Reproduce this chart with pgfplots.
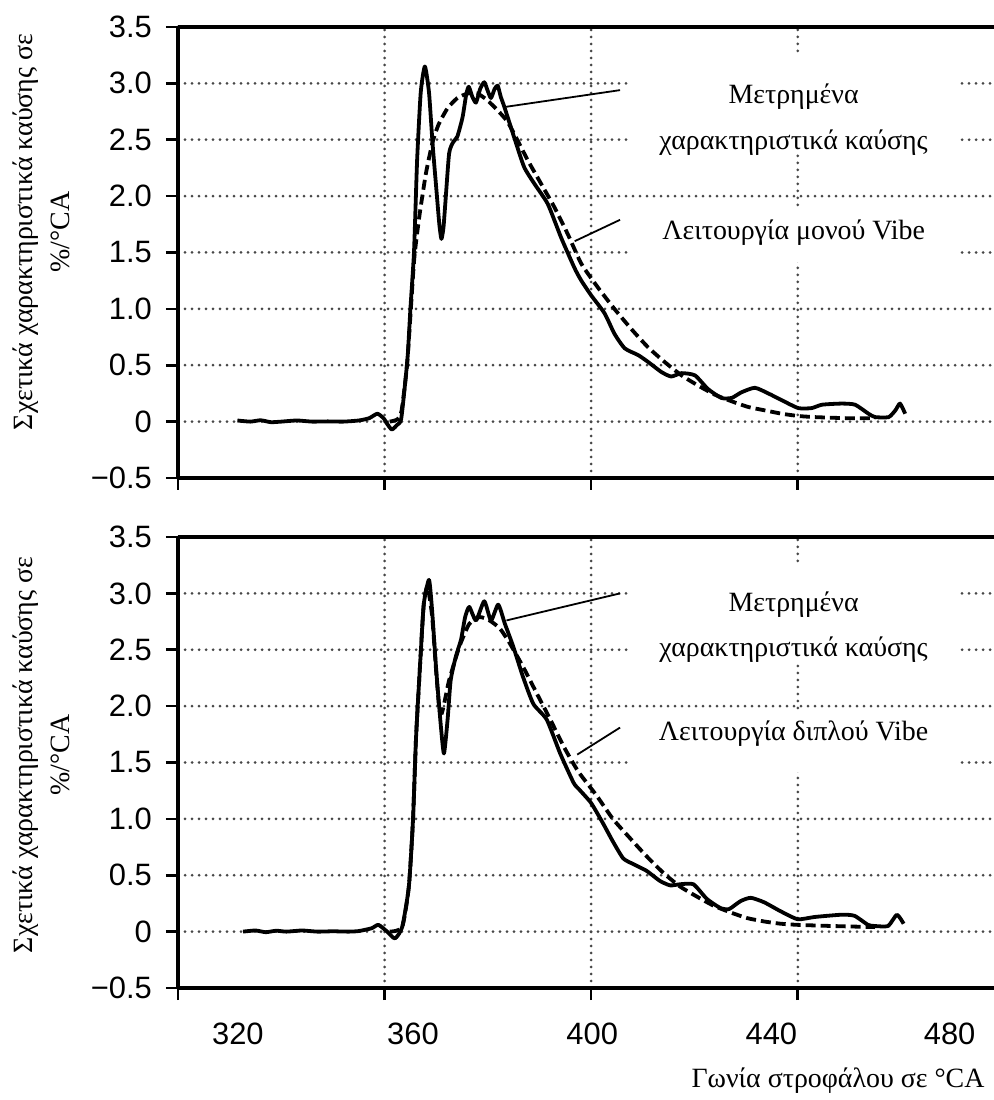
\documentclass[border=0pt]{standalone}
\usepackage{pgfplots}
\pgfplotsset{compat=1.18}
\usepackage{fontspec}
\setmainfont{Liberation Serif}
\newfontfamily\sansf{Liberation Sans}
\newcommand\lab{\fontsize{28}{37}\selectfont}

\pgfplotsset{
  myax/.style={
    scale only axis, width=816bp, height=451bp,
    xmin=320, xmax=478, ymin=-0.5, ymax=3.5,
    axis x line*=box, axis y line*=left,
    axis line style={-, line width=3.8bp, black},
    xtick pos=lower, ytick pos=left,
    tick align=outside, major tick length=12bp,
    every tick/.style={line width=2.6bp, black},
    xtick={320,360,400,440}, xticklabels={,,,},
    ytick={-0.5,0,0.5,1,1.5,2,2.5,3,3.5},
    yticklabels={−0.5,0,0.5,1.0,1.5,2.0,2.5,3.0,3.5},
    ticklabel style={font=\sansf\fontsize{31}{36}\selectfont},
    yticklabel style={inner sep=0pt, xshift=-14bp},
    grid=major,
    grid style={black!72, line width=3bp, line cap=round, dash pattern=on 0bp off 7bp},
    clip=false,
  },
  meas/.style={black, line width=3.8bp, line join=round, smooth, tension=0.35},
  vibe/.style={black, line width=3.8bp, dash pattern=on 10bp off 5bp, smooth, tension=0.35},
}

\begin{document}
\begin{tikzpicture}
\useasboundingbox (0,0) rectangle (994bp,1100bp);

% ---------- top panel ----------
\begin{axis}[myax, at={(178bp,622bp)}]
\addplot[meas] coordinates {
(331.5,0.01) (334,0.00) (336,0.012) (338,-0.005) (340,0.00) (343,0.01) (346,0.00)
(349,0.002) (352,0.00) (355,0.01) (357,0.03) (358.6,0.07) (359.8,0.03) (360.5,-0.02)
(361.4,-0.07) (362.4,-0.03) (363.2,0.02) (364.0,0.35) (364.5,0.6) (365,1.0) (365.7,1.51)
(366.3,2.32) (367,2.92) (367.8,3.15) (368.6,2.92) (369.3,2.46) (370.1,2.02) (370.6,1.75)
(371.0,1.62) (371.4,1.72) (371.8,1.96) (372.5,2.38) (373.3,2.48) (374.1,2.53) (375.1,2.70)
(375.8,2.90) (376.3,2.97) (377.0,2.88) (377.7,2.83) (378.5,2.95) (379.3,3.01) (380.0,2.93)
(380.6,2.87) (381.3,2.95) (381.9,2.98) (382.5,2.88) (383.2,2.79) (385.1,2.52) (387.0,2.26)
(389.0,2.11) (391.6,1.93) (394.2,1.63) (396.8,1.36) (398.1,1.25) (400,1.12) (402.6,0.96)
(404.5,0.78) (406.5,0.65) (409.1,0.59) (411,0.53) (413.6,0.44) (415.5,0.40) (417.5,0.43)
(420.1,0.41) (422.6,0.29) (425.2,0.21) (427.2,0.21) (429.1,0.26) (431.7,0.30) (434.3,0.25)
(436.9,0.19) (440.1,0.12) (442.7,0.12) (444.7,0.15) (448.5,0.16) (451.1,0.15) (453.7,0.07)
(455,0.04) (457.6,0.04) (458.9,0.10) (459.8,0.16) (460.8,0.07)
};
\addplot[vibe] coordinates {
(361,0.0) (362.5,0.02) (363.3,0.1) (364.4,0.53) (365.7,1.42) (366.7,1.81) (368,2.20)
(369.3,2.48) (370.5,2.64) (372.2,2.78) (374.1,2.87) (376.1,2.91) (378,2.91) (379.9,2.85)
(381.9,2.76) (383.8,2.66) (385.8,2.49) (387.7,2.32) (390.3,2.11) (392.9,1.90) (395.5,1.66)
(398.1,1.40) (401.3,1.19) (404.5,1.00) (407.8,0.82) (411,0.66) (414.2,0.53) (417.5,0.41)
(420.7,0.32) (423.9,0.24) (427.2,0.18) (430.4,0.13) (433.6,0.10) (436.9,0.07) (440.1,0.05)
(443.3,0.04) (449.8,0.03) (455,0.03)
};
\fill[white] (axis cs:407.8,3.25) rectangle (axis cs:471,2.38);
\fill[white] (axis cs:407.8,1.88) rectangle (axis cs:471,1.42);
\node[font=\lab] at (axis cs:439.2,2.88) {Μετρημένα};
\node[font=\lab] at (axis cs:439.2,2.47) {χαρακτηριστικά καύσης};
\node[font=\lab] at (axis cs:439.2,1.68) {Λειτουργία μονού Vibe};
\draw[line width=1.8bp] (axis cs:383.2,2.79) -- (axis cs:405.6,2.94);
\draw[line width=1.8bp] (axis cs:396.8,1.60) -- (axis cs:405.6,1.79);
\end{axis}

% ---------- bottom panel ----------
\begin{axis}[myax, at={(178bp,112bp)},
  extra x ticks={331.6,365.5,400.2,434.9,469.4},
  extra x tick labels={320,360,400,440,480},
  extra x tick style={major tick length=0pt, grid=none,
     xticklabel style={inner sep=0pt, yshift=-35bp}},
]
\addplot[meas] coordinates {
(332.6,0.0) (335,0.01) (337,-0.005) (339,0.008) (341,0.00) (344,0.01) (347,0.00)
(350,0.003) (353,0.00) (355,0.005) (357.5,0.03) (358.8,0.06) (360.5,0.0) (362,-0.06)
(363.4,0.04) (364.7,0.40) (365.5,0.99) (366.1,1.73) (367,2.47) (367.6,2.91) (368.6,3.12)
(369.2,2.85) (370,2.32) (370.9,1.82) (371.5,1.58) (372.2,1.88) (372.8,2.23) (373.8,2.44)
(374.8,2.59) (375.6,2.79) (376.4,2.88) (377.7,2.76) (379.3,2.93) (380.6,2.76) (382,2.90)
(383.3,2.73) (384.9,2.53) (386.8,2.26) (388.8,2.02) (391.4,1.88) (394,1.58) (396.6,1.32)
(397.7,1.26) (400,1.14) (402.3,0.96) (404.2,0.80) (406.2,0.65) (408.1,0.60) (410.7,0.54)
(413.3,0.45) (415.3,0.41) (417.2,0.42) (419.8,0.42) (422.4,0.29) (425,0.21) (426.7,0.20)
(428.9,0.27) (430.9,0.30) (433.5,0.26) (436.7,0.18) (440,0.11) (443.3,0.13) (448.5,0.15)
(451,0.14) (453.6,0.06) (454.9,0.05) (457.5,0.05) (459.2,0.15) (460.5,0.07)
};
\addplot[vibe] coordinates {
(361,0.0) (363.4,0.04) (364.7,0.40) (365.5,0.99) (366.1,1.73) (367,2.47) (367.6,2.91)
(368.3,3.06) (369.2,2.80) (370,2.30) (370.6,1.97) (371.1,1.94) (371.8,2.08) (372.5,2.23)
(374.5,2.53) (376.4,2.73) (378.4,2.79) (380.3,2.76) (382.3,2.69) (384.2,2.56) (386.8,2.35)
(389.5,2.11) (392.1,1.88) (394.7,1.64) (397.5,1.42) (401,1.21) (404.2,1.00) (407.5,0.83)
(410.7,0.67) (414,0.52) (417.2,0.40) (420.5,0.31) (423.7,0.23) (427,0.17) (430.2,0.12)
(433.5,0.09) (436.7,0.07) (440,0.06) (446.5,0.05) (455,0.04)
};
\fill[white] (axis cs:407.8,3.25) rectangle (axis cs:471,2.38);
\fill[white] (axis cs:407.8,1.95) rectangle (axis cs:471,1.42);
\node[font=\lab] at (axis cs:439.2,2.90) {Μετρημένα};
\node[font=\lab] at (axis cs:439.2,2.50) {χαρακτηριστικά καύσης};
\node[font=\lab] at (axis cs:439.2,1.76) {Λειτουργία διπλού Vibe};
\draw[line width=1.8bp] (axis cs:383.6,2.76) -- (axis cs:405.6,3.00);
\draw[line width=1.8bp] (axis cs:397.3,1.57) -- (axis cs:405.6,1.81);
\end{axis}

% ---------- labels ----------
\node[rotate=90, align=center, font=\lab] at (41bp,868bp)
  {Σχετικά χαρακτηριστικά καύσης σε\\\%/°CA};
\node[rotate=90, align=center, font=\lab] at (41bp,345bp)
  {Σχετικά χαρακτηριστικά καύσης σε\\\%/°CA};
\node[anchor=base east, font=\lab] at (988bp,13bp) {Γωνία στροφάλου σε °CA};
\end{tikzpicture}
\end{document}
